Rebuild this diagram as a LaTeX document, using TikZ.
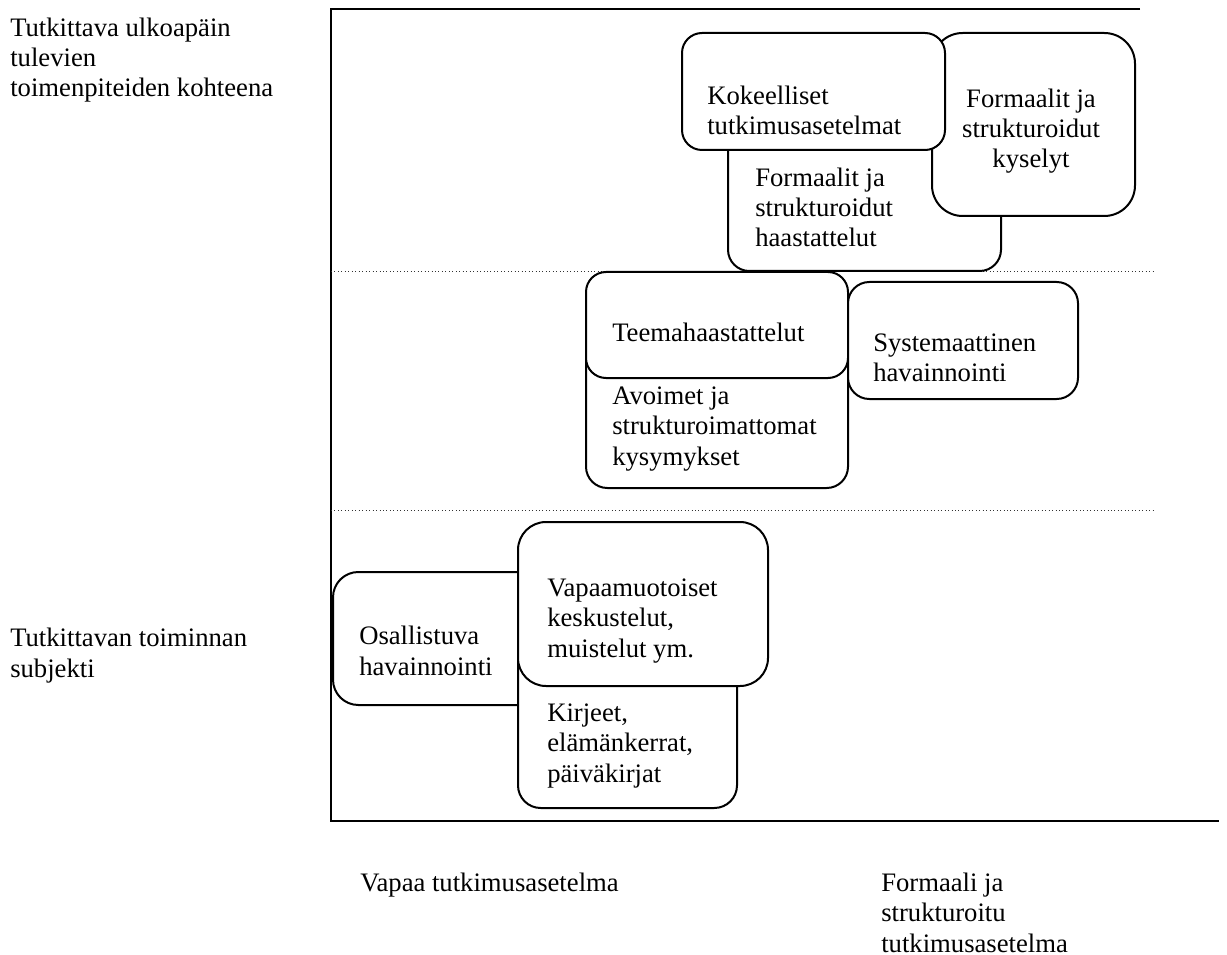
\documentclass[tikz,border=0pt]{standalone}
\usepackage{fontspec}
\setmainfont{Liberation Serif}
\begin{document}
\begin{tikzpicture}[x=0.75pt,y=-0.75pt,
  axis/.style={line width=1.4pt,black},
  sep/.style={line width=0.6pt,dotted,black!80},
  box/.style={line width=1.5pt,fill=white,draw=black},
  lbl/.style={anchor=base west,inner sep=0pt,align=left,font=\fontsize{20}{22.6}\selectfont},
  clbl/.style={anchor=base,inner sep=0pt,align=center,font=\fontsize{20}{22.6}\selectfont}]
\useasboundingbox (0,0) rectangle (1227,955);
% axes
\coordinate (tl) at (331,9);
\coordinate (tr) at (1140,9);
\coordinate (bl) at (331,821);
\coordinate (br) at (1219,821);
\draw[axis] (tr) -- (tl) -- (bl) -- (br);
\coordinate (d1a) at (331,271);
\coordinate (d1b) at (1153,271);
\coordinate (d2a) at (331,510);
\coordinate (d2b) at (1153,510);
\draw[sep] (d1a) -- (d1b);
\draw[sep] (d2a) -- (d2b);
% top group
\draw[box,rounded corners=16pt] (728,100) rectangle (1001,271);
\draw[box,rounded corners=23pt] (932,33) rectangle (1135,216);
\draw[box,rounded corners=15pt] (682,33) rectangle (945,150);
\node[lbl] (kok) at (707,135) {Kokeelliset\\tutkimusasetelmat};
\node[clbl] (kys) at (1031,168) {Formaalit ja\\strukturoidut\\kyselyt};
\node[lbl] (haa) at (755,247) {Formaalit ja\\strukturoidut\\haastattelut};
% middle group
\draw[box,rounded corners=16pt] (586,330) rectangle (848,488);
\draw[box,rounded corners=15pt] (586,272) rectangle (848,378);
\draw[box,rounded corners=16pt] (848,282) rectangle (1078,399);
\node[lbl] (tee) at (612,342) {Teemahaastattelut};
\node[lbl] (avo) at (612,465) {Avoimet ja\\strukturoimattomat\\kysymykset};
\node[lbl] (sys) at (873,382) {Systemaattinen\\havainnointi};
% bottom group
\draw[box,rounded corners=19pt] (333,572) rectangle (600,705);
\draw[box,rounded corners=17pt] (518,640) rectangle (737,808);
\draw[box,rounded corners=21pt] (518,522) rectangle (768,686);
\node[lbl] (osa) at (359,675) {Osallistuva\\havainnointi};
\node[lbl] (vap) at (547,657) {Vapaamuotoiset\\keskustelut,\\muistelut ym.};
\node[lbl] (kir) at (547,782) {Kirjeet,\\elämänkerrat,\\päiväkirjat};
% axis labels
\node[lbl] (ylab1) at (10,97) {Tutkittava ulkoapäin\\tulevien\\toimenpiteiden kohteena};
\node[lbl] (ylab2) at (10,677) {Tutkittavan toiminnan\\subjekti};
\node[lbl] (xlab1) at (360,891) {Vapaa tutkimusasetelma};
\node[lbl] (xlab2) at (881,952) {Formaali ja\\strukturoitu\\tutkimusasetelma};
\end{tikzpicture}
\end{document}
